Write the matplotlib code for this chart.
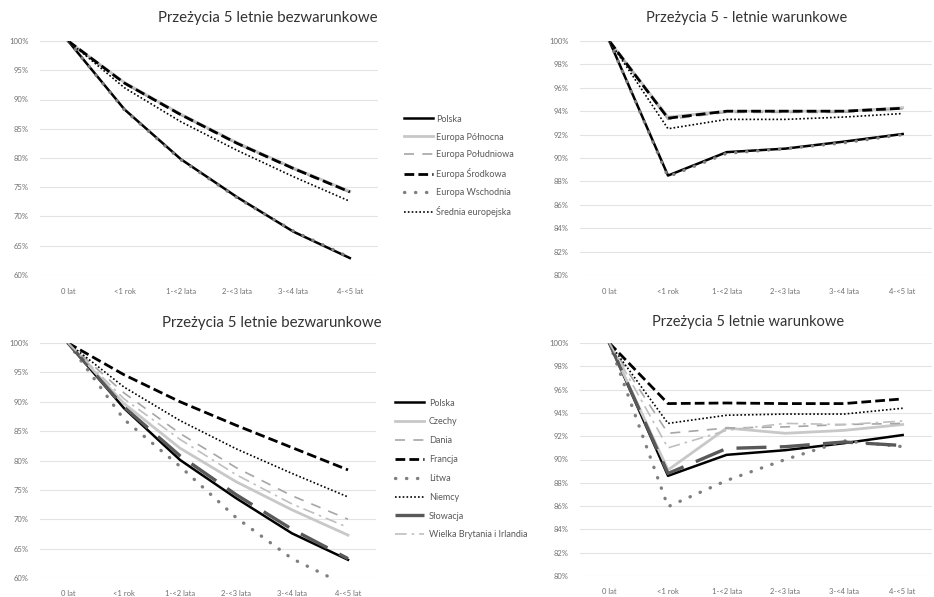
import matplotlib.pyplot as plt
from matplotlib.ticker import PercentFormatter

plt.rcParams['font.family'] = ['Lato', 'DejaVu Sans']

# Kategorie czasu od diagnozy
okresy = ['0 lat', '<1 rok', '1-<2 lata', '2-<3 lata', '3-<4 lata', '4-<5 lat']

# Regiony Europy - przeżycia bezwarunkowe (%)
reg_nazwy = ['Polska', 'Europa Północna', 'Europa Południowa', 'Europa Środkowa',
             'Europa Wschodnia', 'Średnia europejska']
reg_bezw = [
    [100, 88.3, 79.8, 73.3, 67.4, 62.9],
    [100, 92.9, 87.5, 82.6, 78.3, 74.3],
    [100, 92.7, 87.3, 82.4, 78.1, 74.1],
    [100, 92.8, 87.4, 82.5, 78.2, 74.2],
    [100, 88.2, 79.7, 73.2, 67.5, 63.0],
    [100, 92.0, 86.2, 81.3, 76.8, 72.6],
]
# Regiony Europy - przeżycia warunkowe (%)
reg_war = [
    [100, 88.5, 90.5, 90.8, 91.4, 92.05],
    [100, 93.5, 94.0, 94.0, 94.0, 94.3],
    [100, 93.3, 93.9, 93.9, 93.9, 94.2],
    [100, 93.4, 94.0, 94.0, 94.0, 94.25],
    [100, 88.4, 90.4, 90.8, 91.3, 92.0],
    [100, 92.5, 93.3, 93.3, 93.5, 93.8],
]

# Kraje - przeżycia bezwarunkowe (%)
kraje = ['Polska', 'Czechy', 'Dania', 'Francja', 'Litwa', 'Niemcy', 'Słowacja',
         'Wielka Brytania i Irlandia']
kraje_bezw = [
    [100, 88.9, 80.1, 73.6, 67.6, 63.1],
    [100, 89.7, 82.1, 76.4, 71.6, 67.3],
    [100, 91.5, 84.6, 78.8, 74.0, 70.0],
    [100, 94.6, 90.0, 86.0, 82.2, 78.4],
    [100, 87.0, 79.0, 70.3, 63.3, 58.6],
    [100, 92.5, 86.8, 82.0, 77.8, 73.8],
    [100, 89.1, 80.8, 74.2, 68.3, 63.3],
    [100, 90.5, 83.6, 77.6, 72.6, 68.6],
]
# Kraje - przeżycia warunkowe (%)
kraje_war = [
    [100, 88.6, 90.4, 90.8, 91.4, 92.1],
    [100, 89.1, 92.7, 92.25, 92.5, 93.0],
    [100, 92.25, 92.7, 92.8, 93.0, 93.1],
    [100, 94.8, 94.85, 94.8, 94.8, 95.2],
    [100, 85.95, 88.2, 90.0, 91.6, 91.1],
    [100, 93.1, 93.8, 93.9, 93.9, 94.4],
    [100, 88.8, 90.95, 91.1, 91.5, 91.2],
    [100, 91.0, 92.5, 93.1, 93.0, 93.3],
]

# style linii (kolor, grubość, kreskowanie)
styl_polska = dict(color='black', lw=1.8, ls='-')
styl_jasny = dict(color='#c8c8c8', lw=2.0, ls='-')
styl_kreska = dict(color='#a6a6a6', lw=1.2, ls=(0, (6, 5)))
styl_gruba_kreska = dict(color='black', lw=2.0, ls=(0, (3.5, 1.5)))
styl_kropki = dict(color='#7f7f7f', lw=2.4, ls=(0, (0.1, 3.2)), dash_capstyle='round')
styl_gesto = dict(color='black', lw=1.2, ls=(0, (1, 1.3)))
styl_slowacja = dict(color='#595959', lw=2.4, ls=(0, (9, 4)))
styl_wb = dict(color='#bfbfbf', lw=1.2, ls=(0, (7, 3, 1.5, 3)))

style_reg = [styl_polska, styl_jasny, styl_kreska, styl_gruba_kreska, styl_kropki, styl_gesto]
style_kraje = [styl_polska, styl_jasny, styl_kreska, styl_gruba_kreska, styl_kropki, styl_gesto,
               styl_slowacja, styl_wb]

W, H = 934, 597
fig = plt.figure(figsize=(W / 100, H / 100), dpi=100)


def osie(x0, y0, x1, y1):
    return fig.add_axes([x0 / W, 1 - y1 / H, (x1 - x0) / W, (y1 - y0) / H])


def wykres(ax, serie, style, ymin, krok):
    x = range(len(okresy))
    for wart, st in zip(serie, style):
        ax.plot(x, wart, **st)
    ax.set_xlim(-0.5, len(okresy) - 0.5)
    ax.set_ylim(ymin, 100)
    ticks = [ymin + i * krok for i in range(int(round((100 - ymin) / krok)) + 1)]
    ax.set_yticks(ticks)
    ax.yaxis.set_major_formatter(PercentFormatter(decimals=0))
    ax.set_xticks(list(x))
    ax.set_xticklabels(okresy)
    ax.grid(axis='y', color='#e3e3e3', lw=0.8)
    ax.set_axisbelow(True)
    for s in ax.spines.values():
        s.set_visible(False)
    ax.tick_params(length=0, labelsize=5.5, labelcolor='#707070', pad=8)
    ax.tick_params(axis='x', pad=9)


ax1 = osie(40, 41, 378, 275)
wykres(ax1, reg_bezw, style_reg, 60, 5)
ax2 = osie(580, 41, 932, 275)
wykres(ax2, reg_war, style_reg, 80, 2)
ax3 = osie(40, 343, 376, 578)
wykres(ax3, kraje_bezw, style_kraje, 60, 5)
ax4 = osie(580, 343, 932, 576)
wykres(ax4, kraje_war, style_kraje, 80, 2)

# tytuły
fig.text(268 / W, 1 - 18 / H, 'Przeżycia 5 letnie bezwarunkowe', ha='center', va='center',
         fontsize=10.8, color='#333333')
fig.text(747 / W, 1 - 18 / H, 'Przeżycia 5 - letnie warunkowe', ha='center', va='center',
         fontsize=10.5, color='#333333')
fig.text(272 / W, 1 - 323 / H, 'Przeżycia 5 letnie bezwarunkowe', ha='center', va='center',
         fontsize=10.8, color='#333333')
fig.text(748 / W, 1 - 322 / H, 'Przeżycia 5 letnie warunkowe', ha='center', va='center',
         fontsize=10.5, color='#333333')

# legendy
leg1 = fig.legend(ax1.get_lines(), reg_nazwy, loc='upper left',
                  bbox_to_anchor=(400 / W, 1 - 111 / H), frameon=False, fontsize=6.5,
                  handlelength=3.3, handletextpad=0.3, labelspacing=0.99, borderaxespad=0)
leg2 = fig.legend(ax3.get_lines(), kraje, loc='upper left',
                  bbox_to_anchor=(391 / W, 1 - 395 / H), frameon=False, fontsize=6.5,
                  handlelength=3.3, handletextpad=0.5, labelspacing=1.09, borderaxespad=0)
for leg in (leg1, leg2):
    for t in leg.get_texts():
        t.set_color('#595959')

fig.savefig('out.png', dpi=100, facecolor='white')
